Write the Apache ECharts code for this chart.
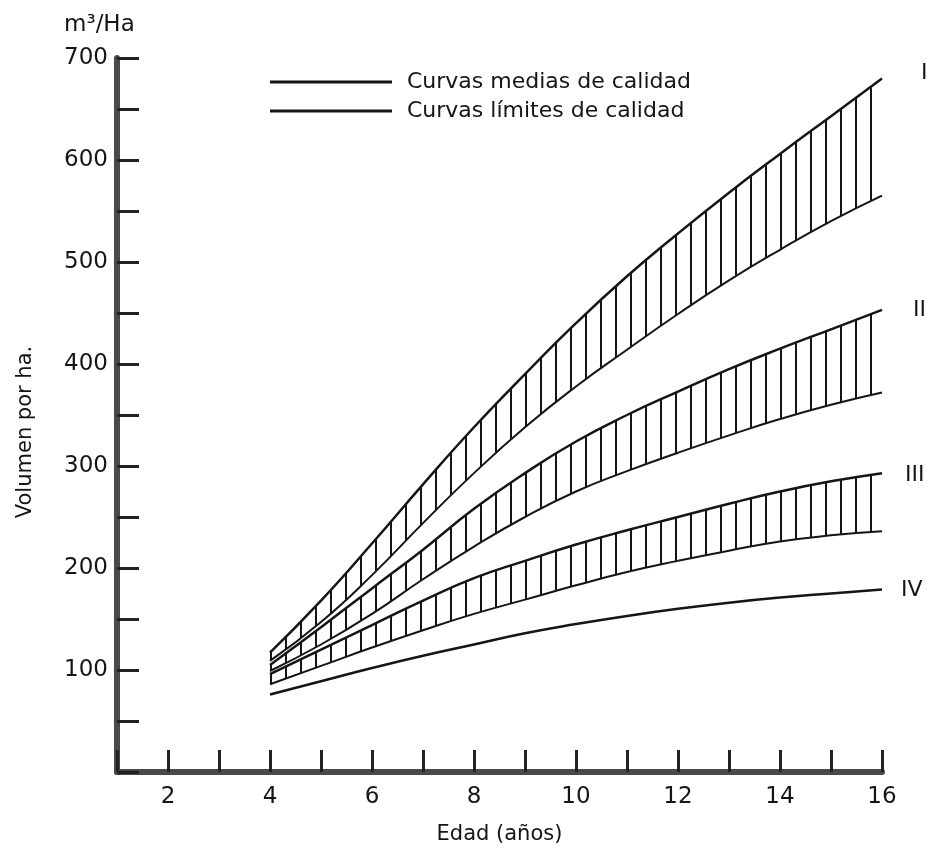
<!DOCTYPE html>
<html>
<head>
<meta charset="utf-8">
<script src="https://cdn.jsdelivr.net/npm/echarts@6/dist/echarts.min.js"></script>
<style>
  html, body { margin: 0; padding: 0; background: #fff; }
  #chart { width: 927px; height: 862px; }
</style>
</head>
<body>
<div id="chart"></div>
<script>
// Edad (años): eje completo y edades con datos
const anios = [1, 2, 3, 4, 5, 6, 7, 8, 9, 10, 11, 12, 13, 14, 15, 16];
const edades = [4, 5, 6, 7, 8, 9, 10, 11, 12, 13, 14, 15, 16];

// Volumen por ha (m3/Ha)
const calidadI_sup = [117, 168, 224, 282, 338, 390, 440, 486, 528, 568, 606, 643, 680];
const calidadI_inf = [109, 147, 193, 244, 293, 338, 378, 414, 449, 482, 512, 540, 565];
const calidadII_sup = [105, 142, 180, 218, 258, 293, 324, 350, 373, 395, 415, 434, 453];
const calidadII_inf = [99, 125, 155, 189, 221, 250, 275, 295, 313, 330, 346, 360, 372];
const calidadIII_sup = [96, 120, 144, 168, 190, 207, 223, 237, 250, 263, 275, 285, 293];
const calidadIII_inf = [86, 104, 122, 139, 155, 169, 183, 196, 207, 217, 226, 232, 236];
const calidadIV = [76, 89, 102, 114, 125, 136, 145, 153, 160, 166, 171, 175, 179];

const rotulos = ['I', 'II', 'III', 'IV'];

const NOMBRE_MEDIAS = 'Curvas medias de calidad';
const NOMBRE_LIMITES = 'Curvas límites de calidad';

const FONT = 'DejaVu Sans';
const INK = '#151515';

// patrón de rayado vertical
const rayado = document.createElement('canvas');
rayado.width = 15;
rayado.height = 8;
const rctx = rayado.getContext('2d');
rctx.fillStyle = INK;
rctx.fillRect(0, 0, 2, 8);

// valores alineados a las categorías del eje (null antes de los 4 años)
const enEje = (ys) => anios.map((a) => {
  const i = edades.indexOf(a);
  return i < 0 ? null : ys[i];
});
// para apilar: el valor superior como diferencia sobre el inferior
const diferencia = (sup, inf) => sup.map((v, i) => v - inf[i]);

function banda(id, sup, inf, rotulo, offset) {
  return [
    {
      name: NOMBRE_LIMITES,
      type: 'line',
      stack: id,
      smooth: true,
      symbol: 'none',
      data: enEje(inf),
      lineStyle: { color: INK, width: 2 },
      itemStyle: { color: INK },
      z: 3,
    },
    {
      name: NOMBRE_MEDIAS,
      type: 'line',
      stack: id,
      smooth: true,
      symbol: 'none',
      data: enEje(diferencia(sup, inf)),
      lineStyle: { color: INK, width: 2.5 },
      itemStyle: { color: INK },
      areaStyle: { color: { image: rayado, repeat: 'repeat' }, opacity: 1 },
      endLabel: {
        show: true,
        formatter: rotulo,
        offset: offset,
        fontFamily: FONT,
        fontSize: 22,
        color: INK,
      },
      z: 4,
    },
  ];
}

const chart = echarts.init(document.getElementById('chart'), null, { renderer: 'canvas' });

const option = {
  animation: false,
  backgroundColor: '#fff',
  grid: {
    left: 117,
    right: 45,
    top: 58,
    bottom: 90,
    outerBoundsMode: 'none',
  },
  legend: {
    orient: 'vertical',
    left: 270,
    top: 71,
    padding: 0,
    itemGap: 7,
    itemWidth: 122,
    itemHeight: 3,
    icon: 'rect',
    selectedMode: false,
    data: [NOMBRE_MEDIAS, NOMBRE_LIMITES],
    textStyle: {
      fontFamily: FONT,
      fontSize: 22,
      color: INK,
      padding: [0, 0, 0, 10],
    },
  },
  xAxis: {
    type: 'category',
    data: anios,
    boundaryGap: false,
    name: 'Edad (años)',
    nameLocation: 'middle',
    nameGap: 52,
    nameTextStyle: { fontFamily: FONT, fontSize: 21, color: INK },
    axisLine: { lineStyle: { color: '#4a4a4a', width: 6 } },
    axisTick: { inside: true, length: 22, interval: 0, lineStyle: { color: '#222', width: 3 } },
    axisLabel: {
      margin: 14,
      interval: 0,
      fontFamily: FONT,
      fontSize: 23,
      color: INK,
      formatter: (v) => (Number(v) % 2 === 0 ? String(v) : ''),
    },
    splitLine: { show: false },
  },
  yAxis: {
    type: 'value',
    min: 0,
    max: 700,
    interval: 50,
    name: 'Volumen por ha.',
    nameLocation: 'middle',
    nameGap: 81,
    nameTextStyle: { fontFamily: FONT, fontSize: 21, color: INK, padding: [0, 34, 0, 0] },
    axisLine: { show: true, lineStyle: { color: '#4a4a4a', width: 6 } },
    axisTick: { show: true, inside: true, length: 22, lineStyle: { color: '#222', width: 3 } },
    axisLabel: {
      margin: 9,
      fontFamily: FONT,
      fontSize: 23,
      color: INK,
      formatter: (v) => (v > 0 && v % 100 === 0 ? String(v) : ''),
    },
    splitLine: { show: false },
  },
  graphic: [
    {
      type: 'text',
      left: 64,
      top: 14,
      style: { text: 'm³/Ha', font: '23px "' + FONT + '"', fill: INK },
    },
  ],
  series: [
    ...banda('I', calidadI_sup, calidadI_inf, rotulos[0], [31, -5]),
    ...banda('II', calidadII_sup, calidadII_inf, rotulos[1], [23, 0]),
    ...banda('III', calidadIII_sup, calidadIII_inf, rotulos[2], [15, 2]),
    {
      name: 'IV',
      type: 'line',
      smooth: true,
      symbol: 'none',
      data: enEje(calidadIV),
      lineStyle: { color: INK, width: 2.5 },
      itemStyle: { color: INK },
      endLabel: {
        show: true,
        formatter: rotulos[3],
        offset: [11, 1],
        fontFamily: FONT,
        fontSize: 22,
        color: INK,
      },
      z: 4,
    },
  ],
};

chart.setOption(option);
window.addEventListener('resize', () => chart.resize());
</script>
</body>
</html>
